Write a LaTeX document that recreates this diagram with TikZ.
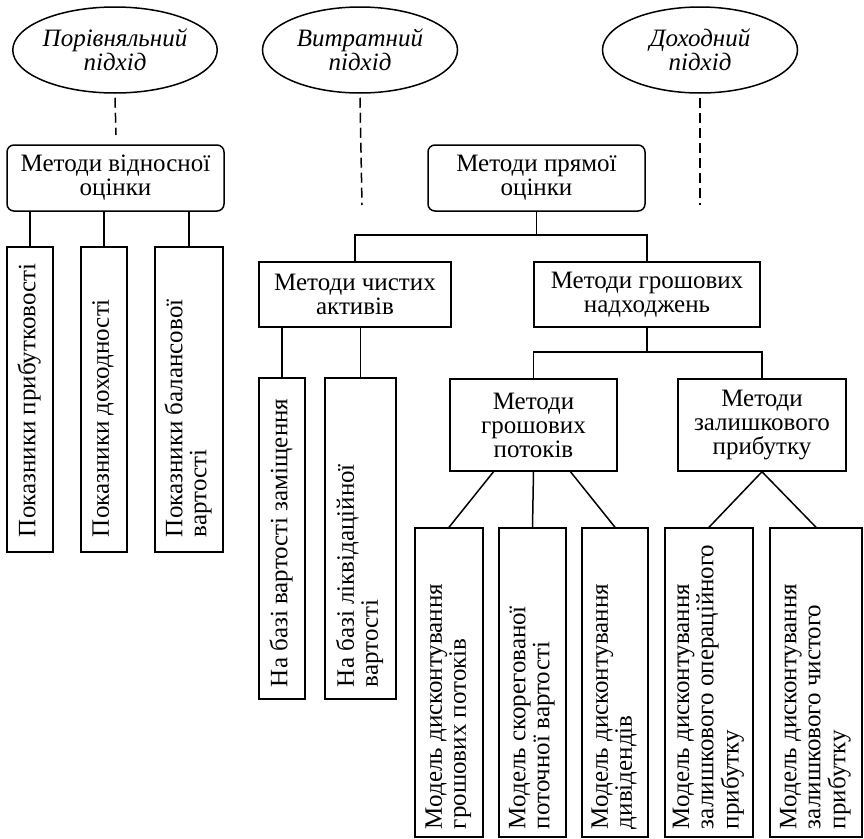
\documentclass[tikz,border=0pt]{standalone}
\usepackage{fontspec}
\usepackage{graphicx}
\setmainfont{Liberation Serif}
\usetikzlibrary{shapes.geometric}
\newcommand{\vtxt}[2]{\rotatebox{90}{\makebox[#1][l]{\begin{tabular}{@{}l@{}}#2\end{tabular}}}}
\begin{document}
\begin{tikzpicture}[x=1pt,y=-1pt,line width=1.5pt,
  every node/.style={font=\fontsize{25}{24}\selectfont},
  ell/.style={draw,ellipse,minimum width=195pt,minimum height=86pt,inner sep=0pt,align=center,font=\fontsize{25}{24}\selectfont\itshape},
  hbox/.style={draw,rectangle,align=center,inner sep=0pt},
  rbox/.style={hbox,rounded corners=7pt},
  vbox/.style={draw,rectangle,inner sep=0pt},
  dashline/.style={dash pattern=on 10pt off 5pt}]
\useasboundingbox (0,0) rectangle (864,838);
% approaches
\node[ell] (e1) at (115,50) {Порівняльний\\підхід};
\node[ell] (e2) at (360,50) {Витратний\\підхід};
\node[ell] (e3) at (700,50) {Доходний\\підхід};
\coordinate (d1) at (116,135);
\coordinate (d2) at (362,205);
\coordinate (d3) at (700,205);
\draw[dashline] ([yshift=-4pt]e1.south) -- (d1);
\draw[dashline] ([yshift=-4pt]e2.south) -- (d2);
\draw[dashline] ([yshift=-4pt]e3.south) -- (d3);
% level 1
\node[rbox,minimum width=217pt,minimum height=66pt] (rel) at (115.5,178) {Методи відносної\\оцінки};
\node[rbox,minimum width=217pt,minimum height=66pt] (dir) at (536.5,178) {Методи прямої\\оцінки};
% relative children
\node[vbox,minimum width=46pt,minimum height=305pt] (p1) at (30,399.5) {\vtxt{275pt}{Показники прибутковості}};
\node[vbox,minimum width=46pt,minimum height=305pt] (p2) at (104,399.5) {\vtxt{275pt}{Показники доходності}};
\node[vbox,minimum width=68pt,minimum height=305pt] (p3) at (189,399.5) {\vtxt{275pt}{Показники балансової\\вартості}};
\draw (rel.south -| p1) -- (p1.north);
\draw (rel.south -| p2) -- (p2.north);
\draw (rel.south -| p3) -- (p3.north);
% level 2
\node[hbox,minimum width=192pt,minimum height=65pt] (net) at (355,294.5) {Методи чистих\\активів};
\node[hbox,minimum width=226pt,minimum height=65pt] (cash) at (647,294.5) {Методи грошових\\надходжень};
\coordinate (b1) at (536.5,235);
\draw (dir.south) -- (b1);
\draw (net.north) |- (b1) -| (cash.north);
% net children
\node[vbox,minimum width=46pt,minimum height=321pt] (n1) at (282,538.5) {\vtxt{297pt}{На базі вартості заміщення}};
\node[vbox,minimum width=71pt,minimum height=321pt] (n2) at (360.5,538.5) {\vtxt{297pt}{На базі ліквідаційної\\вартості}};
\draw (net.south -| n1) -- (n1.north);
\draw (net.south -| n2) -- (n2.north);
% level 3
\node[hbox,minimum width=167pt,minimum height=92pt] (cf) at (533.5,425) {Методи\\грошових\\потоків};
\node[hbox,minimum width=168pt,minimum height=92pt] (res) at (762,425) {Методи\\залишкового\\прибутку};
\coordinate (b2) at (647,352);
\draw (cash.south) -- (b2);
\draw (cf.north) |- (b2) -| (res.north);
% models
\node[vbox,minimum width=68pt,minimum height=309pt] (m1) at (449,682.5) {\vtxt{293pt}{Модель дисконтування\\грошових потоків}};
\node[vbox,minimum width=67pt,minimum height=309pt] (m2) at (532.5,682.5) {\vtxt{293pt}{Модель скорегованої\\поточної вартості}};
\node[vbox,minimum width=66pt,minimum height=309pt] (m3) at (615,682.5) {\vtxt{293pt}{Модель дисконтування\\дивідендів}};
\node[vbox,minimum width=88pt,minimum height=309pt] (m4) at (709,682.5) {\vtxt{293pt}{Модель дисконтування\\залишкового операційного\\прибутку}};
\node[vbox,minimum width=92pt,minimum height=309pt] (m5) at (816,682.5) {\vtxt{293pt}{Модель дисконтування\\залишкового чистого\\прибутку}};
\draw ([xshift=-40pt]cf.south) -- (m1.north);
\draw (cf.south) -- (m2.north);
\draw ([xshift=37pt]cf.south) -- (m3.north);
\draw (res.south) -- (m4.north);
\draw (res.south) -- (m5.north);
\end{tikzpicture}
\end{document}
